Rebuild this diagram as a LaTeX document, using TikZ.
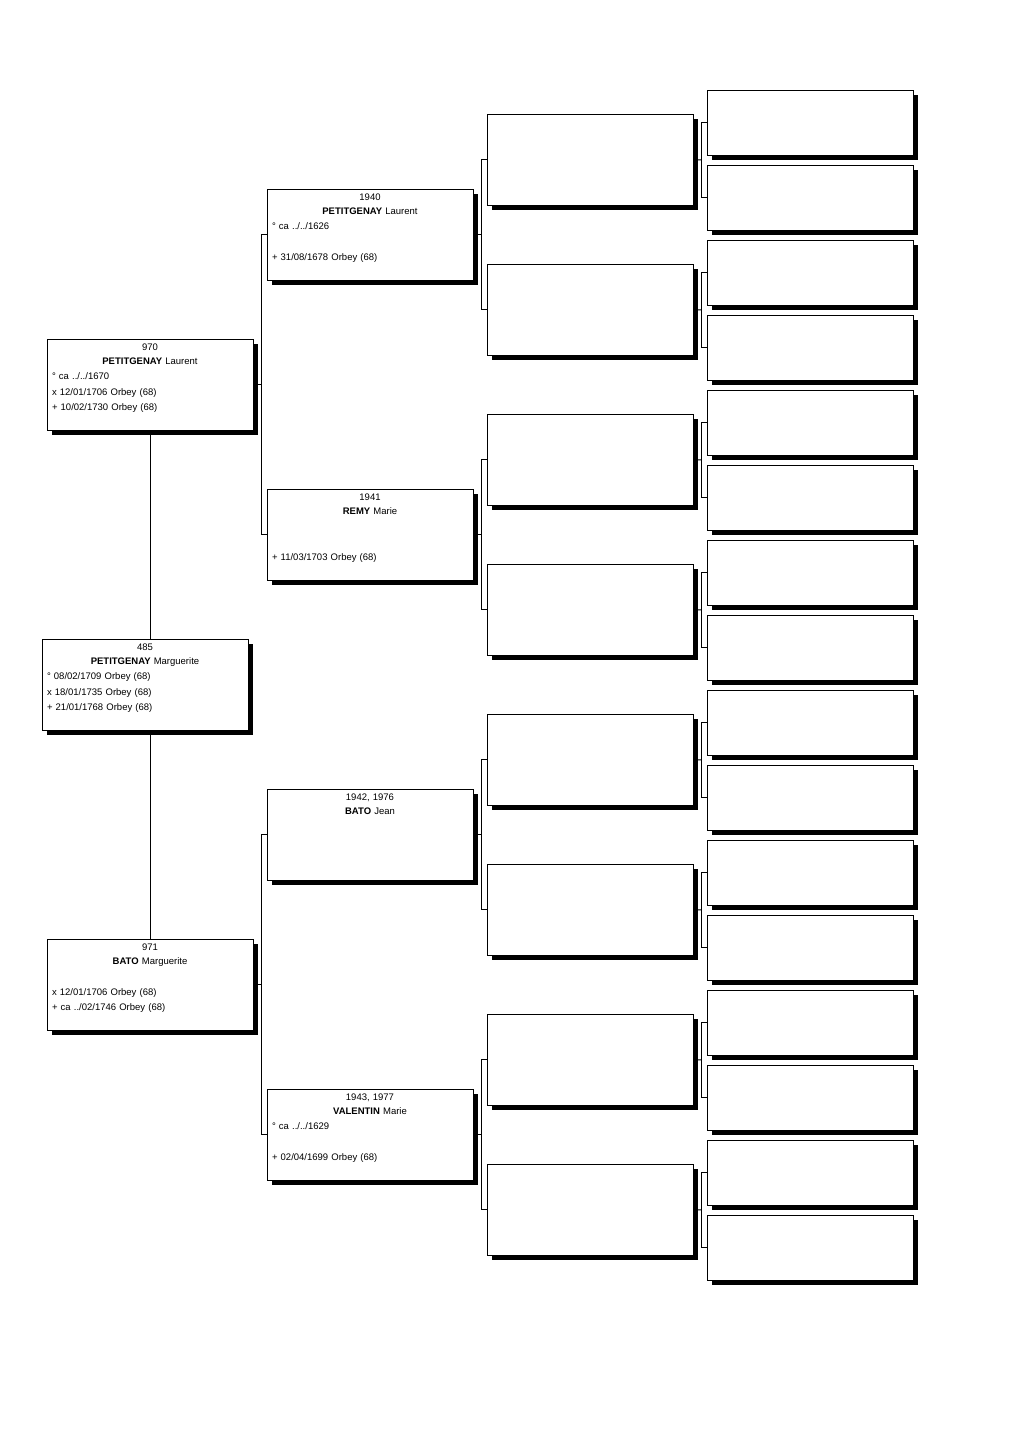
\documentclass[tikz,border=0pt]{standalone}
\usepackage{fontspec}
\setmainfont{Liberation Sans}
\usetikzlibrary{positioning,calc,shadows}

\tikzset{
  box/.style={draw, fill=white, line width=1pt, inner sep=0pt, minimum width=206pt, minimum height=91pt,
    drop shadow={shadow xshift=4.5pt, shadow yshift=-4.5pt, fill=black, opacity=1}},
  smallbox/.style={box, minimum height=65pt},
  info/.style={inner sep=0pt, text width=196pt, align=left, font=\fontsize{9.5}{15.4}\selectfont},
  link/.style={line width=1pt}
}
\newcommand{\headline}[2]{{\centering #1\par\vspace{-2pt}#2\par}}

\begin{document}
\begin{tikzpicture}[x=1pt,y=-1pt]
\fill[white] (0,0) rectangle (1022,1437);

% known persons
\node[box] (s485) at (145,684.5) {};
\node[info, below=5.5pt of s485.north] (t485) {\headline{485}{\textbf{PETITGENAY} Marguerite}° 08/02/1709 Orbey (68)\par x 18/01/1735 Orbey (68)\par + 21/01/1768 Orbey (68)};

\node[box] (s970) at (150,384.5) {};
\node[info, below=5.5pt of s970.north] (t970) {\headline{970}{\textbf{PETITGENAY} Laurent}° ca ../../1670\par x 12/01/1706 Orbey (68)\par + 10/02/1730 Orbey (68)};

\node[box] (s971) at (150,984.5) {};
\node[info, below=5.5pt of s971.north] (t971) {\headline{971}{\textbf{BATO} Marguerite}\mbox{}\par x 12/01/1706 Orbey (68)\par + ca ../02/1746 Orbey (68)};

\node[box] (s1940) at (370,234.5) {};
\node[info, below=5.5pt of s1940.north] (t1940) {\headline{1940}{\textbf{PETITGENAY} Laurent}° ca ../../1626\par\mbox{}\par + 31/08/1678 Orbey (68)};

\node[box] (s1941) at (370,534.5) {};
\node[info, below=5.5pt of s1941.north] (t1941) {\headline{1941}{\textbf{REMY} Marie}\mbox{}\par\mbox{}\par + 11/03/1703 Orbey (68)};

\node[box] (s1942) at (370,834.5) {};
\node[info, below=5.5pt of s1942.north] (t1942) {\headline{1942, 1976}{\textbf{BATO} Jean}};

\node[box] (s1943) at (370,1134.5) {};
\node[info, below=5.5pt of s1943.north] (t1943) {\headline{1943, 1977}{\textbf{VALENTIN} Marie}° ca ../../1629\par\mbox{}\par + 02/04/1699 Orbey (68)};

% empty generations
\foreach \i in {0,...,7}
  \node[box] (g3-\i) at (590,159.5+150*\i) {};
\foreach \i in {0,...,15}
  \node[smallbox] (g4-\i) at (810,122.5+75*\i) {};

% links
\draw[link] (s970.south) -- (s970.south |- s485.north);
\draw[link] (s971.north) -- (s971.north |- s485.south);

\foreach \p/\a/\b in {s970/s1940/s1941, s971/s1942/s1943} {
  \draw[link] (\a.west) -- ++(-5,0) |- (\b.west);
  \draw[link] (\p.east) -- ($(\a.west)!0.5!(\b.west)+(-5,0)$);
}

\foreach \p [count=\k from 0] in {s1940,s1941,s1942,s1943} {
  \pgfmathtruncatemacro\a{2*\k}
  \pgfmathtruncatemacro\b{2*\k+1}
  \draw[link] (g3-\a.west) -- ++(-5,0) |- (g3-\b.west);
  \draw[link] (\p.east) -- ($(g3-\a.west)!0.5!(g3-\b.west)+(-5,0)$);
}

\foreach \k in {0,...,7} {
  \pgfmathtruncatemacro\a{2*\k}
  \pgfmathtruncatemacro\b{2*\k+1}
  \draw[link] (g4-\a.west) -- ++(-5,0) |- (g4-\b.west);
  \draw[link] (g3-\k.east) -- ($(g4-\a.west)!0.5!(g4-\b.west)+(-5,0)$);
}
\end{tikzpicture}
\end{document}
